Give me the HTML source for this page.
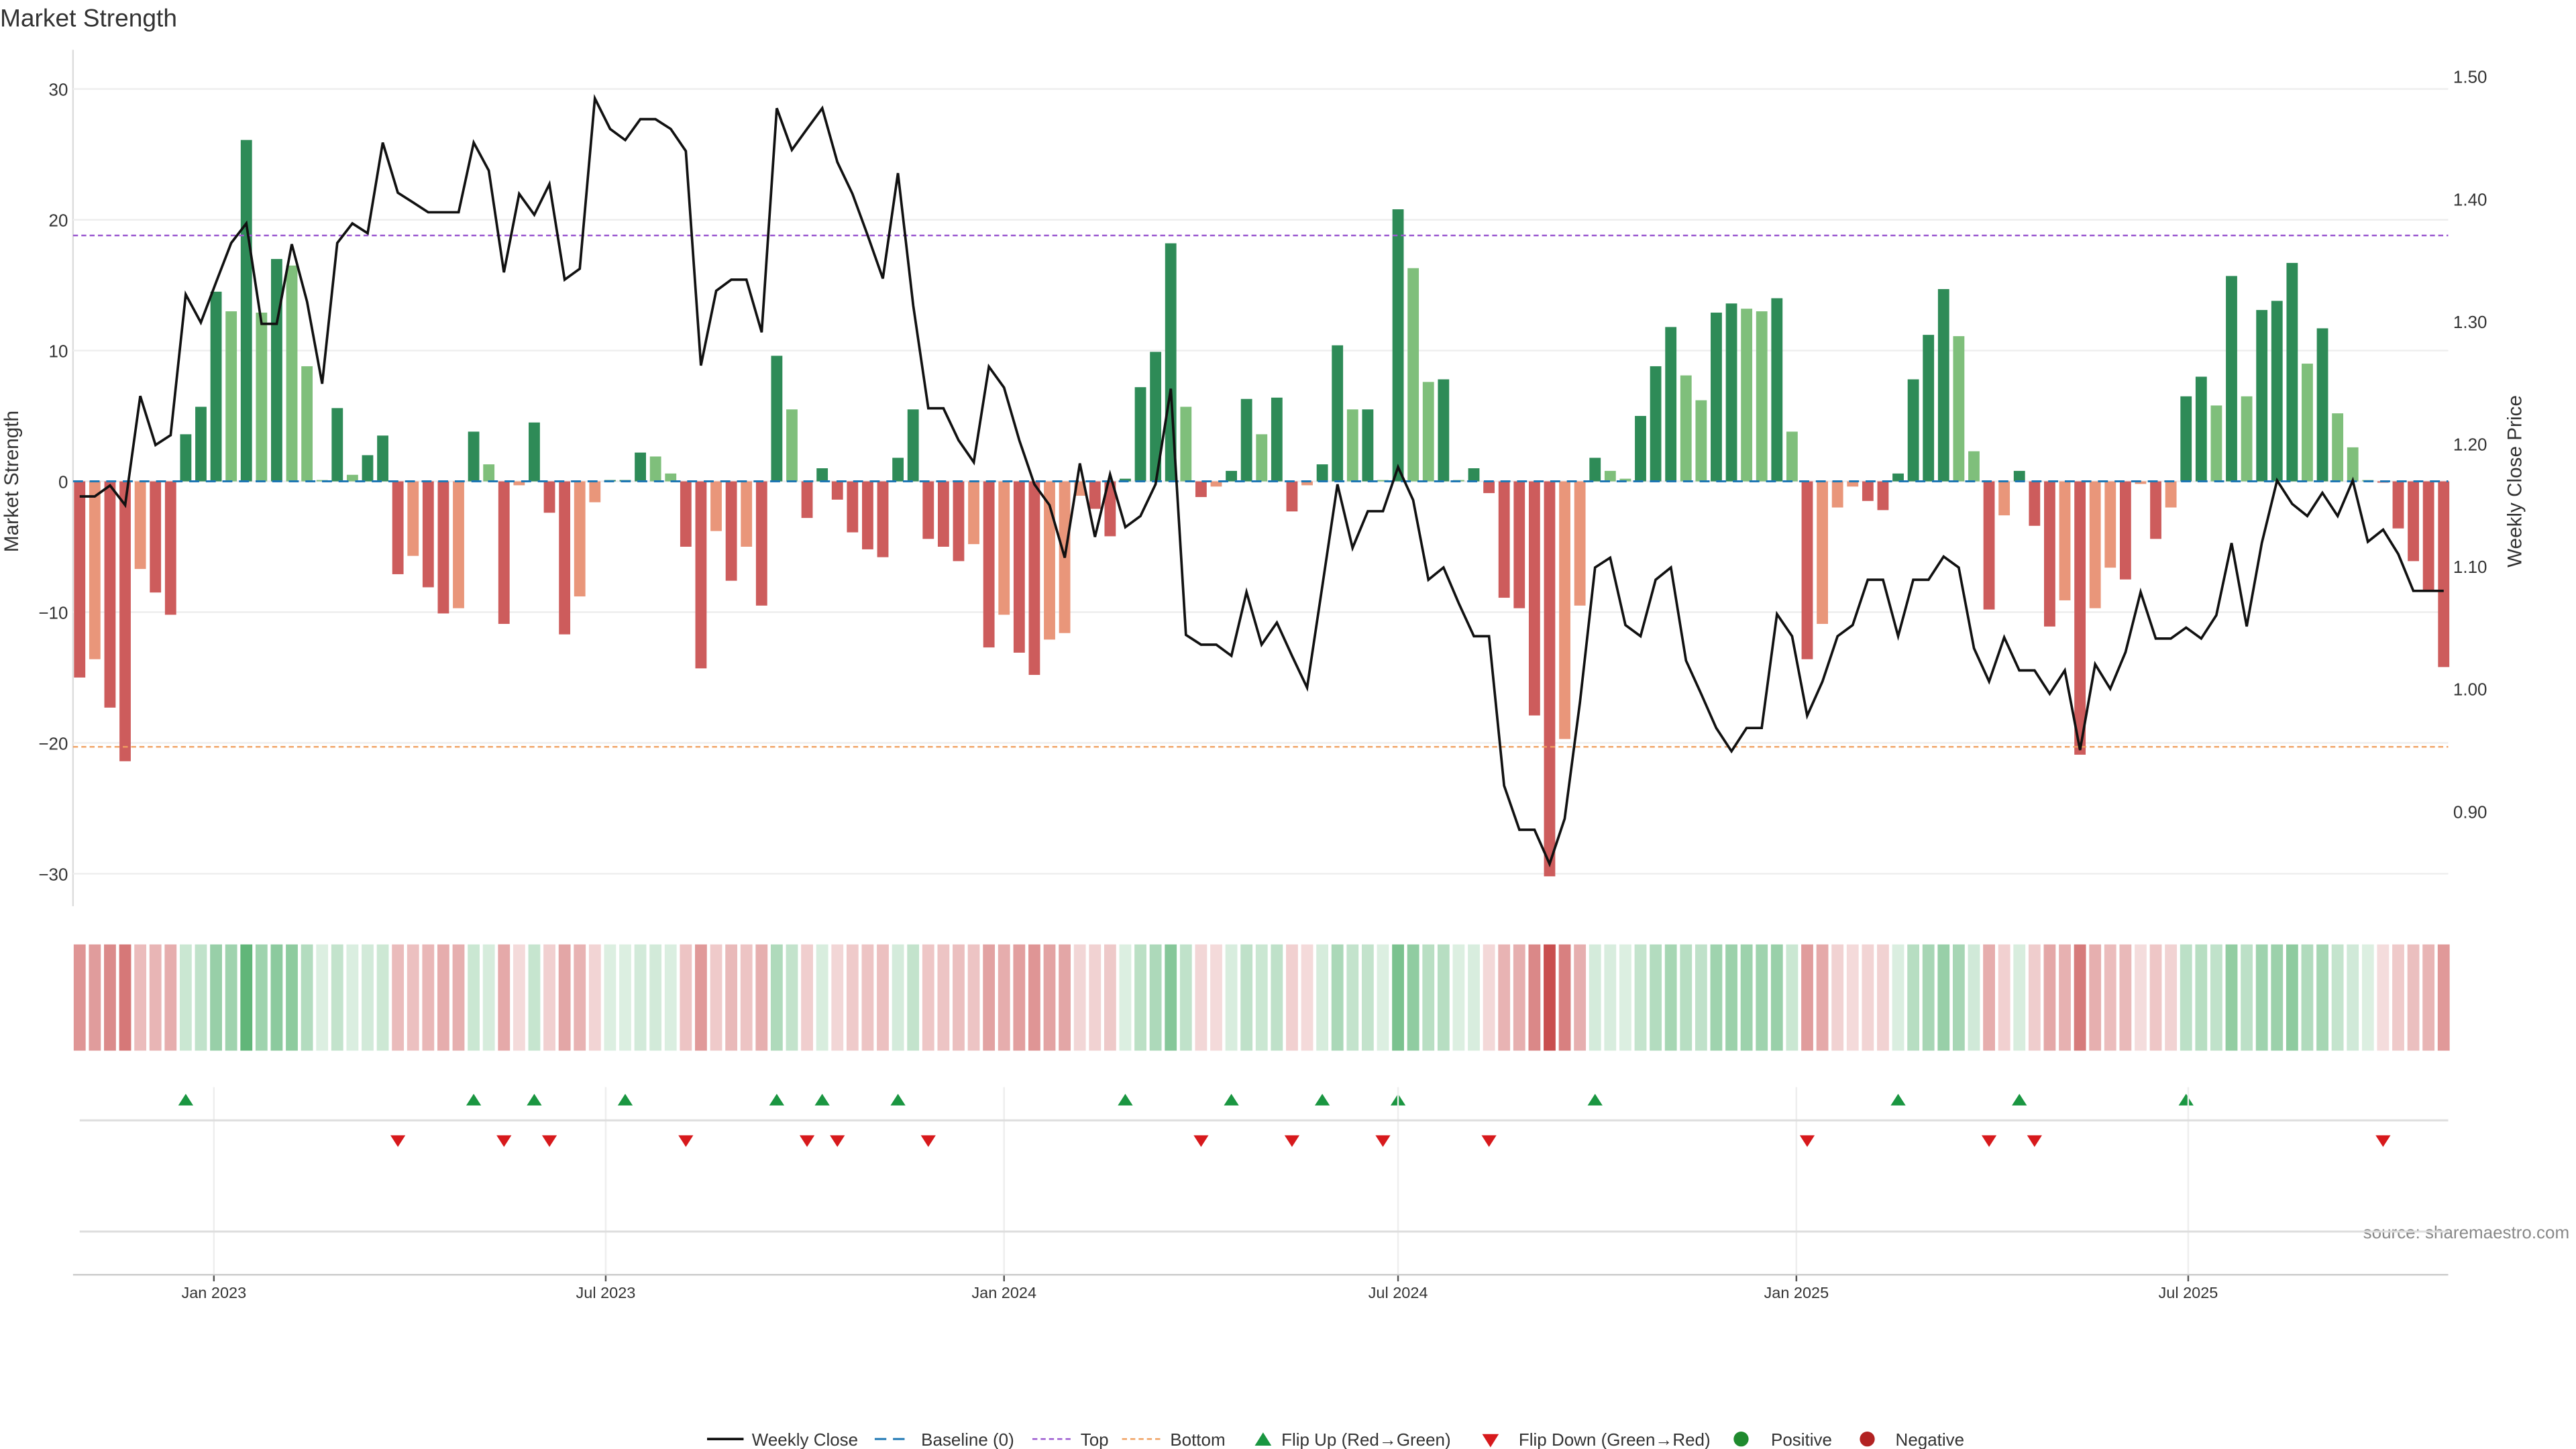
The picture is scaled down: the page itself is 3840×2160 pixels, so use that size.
<!DOCTYPE html>
<html><head><meta charset="utf-8"><style>
html,body{margin:0;padding:0;background:#fff;}
svg{display:block;font-family:"Liberation Sans","DejaVu Sans",sans-serif;}
</style></head><body>
<svg id="chart" width="3840" height="2160" viewBox="0 0 1552 873" preserveAspectRatio="none" xmlns="http://www.w3.org/2000/svg">
<text x="0" y="16" font-size="15" fill="#333">Market Strength</text>
<text transform="translate(11,290) rotate(-90)" text-anchor="middle" font-size="12" fill="#333">Market Strength</text>
<text transform="translate(1519,290) rotate(-90)" text-anchor="middle" font-size="12" fill="#333">Weekly Close Price</text>
<text x="1548" y="746" text-anchor="end" font-size="10.5" fill="#888">source: sharemaestro.com</text>
<g id="grid"></g><g id="bars"></g><g id="refs"></g><g id="line"></g><g id="strip"></g><g id="flips"></g><g id="xaxis"></g>
<g id="legend"></g>
</svg>
<script>
const strength = [-15.0,-13.6,-17.3,-21.4,-6.7,-8.5,-10.2,3.6,5.7,14.5,13.0,26.1,12.9,17.0,16.5,8.8,0.1,5.6,0.5,2.0,3.5,-7.1,-5.7,-8.1,-10.1,-9.7,3.8,1.3,-10.9,-0.3,4.5,-2.4,-11.7,-8.8,-1.6,0.1,0.1,2.2,1.9,0.6,
-5.0,-14.3,-3.8,-7.6,-5.0,-9.5,9.6,5.5,-2.8,1.0,-1.4,-3.9,-5.2,-5.8,1.8,5.5,-4.4,-5.0,-6.1,-4.8,-12.7,-10.2,-13.1,-14.8,-12.1,-11.6,-1.1,-2.1,-4.2,0.2,7.2,9.9,18.2,5.7,-1.2,-0.4,0.8,6.3,3.6,
6.4,-2.3,-0.3,1.3,10.4,5.5,5.5,0.1,20.8,16.3,7.6,7.8,0.1,1.0,-0.9,-8.9,-9.7,-17.9,-30.2,-19.7,-9.5,1.8,0.8,0.2,5.0,8.8,11.8,8.1,6.2,12.9,13.6,13.2,13.0,14.0,3.8,-13.6,-10.9,-2.0,-0.4,-1.5,
-2.2,0.6,7.8,11.2,14.7,11.1,2.3,-9.8,-2.6,0.8,-3.4,-11.1,-9.1,-20.9,-9.7,-6.6,-7.5,-0.2,-4.4,-2.0,6.5,8.0,5.8,15.7,6.5,13.1,13.8,16.7,9.0,11.7,5.2,2.6,0.1,-0.1,-3.6,-6.1,-8.3,-14.2];
const closes = [1.157,1.157,1.166,1.150,1.239,1.199,1.207,1.322,1.299,1.332,1.364,1.380,1.298,1.298,1.363,1.316,1.249,1.364,1.380,1.372,1.446,1.405,1.397,1.389,1.389,1.389,1.446,1.423,1.340,1.404,1.387,1.412,1.334,1.343,1.482,1.457,1.448,1.465,1.465,1.457,
1.439,1.264,1.325,1.334,1.334,1.291,1.474,1.440,1.457,1.474,1.430,1.404,1.370,1.335,1.421,1.313,1.229,1.229,1.203,1.185,1.263,1.246,1.203,1.167,1.150,1.107,1.184,1.124,1.175,1.132,1.141,1.167,1.245,1.044,1.036,1.036,1.027,1.079,1.036,
1.054,1.027,1.001,1.084,1.167,1.115,1.145,1.145,1.181,1.154,1.089,1.099,1.070,1.043,1.043,0.921,0.885,0.885,0.857,0.894,0.989,1.099,1.107,1.052,1.043,1.089,1.099,1.023,0.996,0.968,0.949,0.968,0.968,1.061,1.043,0.978,1.006,1.043,1.052,1.089,
1.089,1.043,1.089,1.089,1.108,1.099,1.033,1.006,1.042,1.015,1.015,0.996,1.015,0.950,1.020,1.000,1.030,1.079,1.041,1.041,1.050,1.041,1.060,1.119,1.051,1.119,1.170,1.151,1.141,1.160,1.141,1.170,1.120,1.130,1.110,1.080,1.080,1.080];
const flipUps = [7,26,30,36,46,49,54,69,76,82,87,100,120,128,139];
const flipDowns = [21,28,31,40,48,50,56,74,80,86,93,114,126,129,152];
const leftTicks = [30,20,10,0,-10,-20,-30];
const rightTicks = [1.50,1.40,1.30,1.20,1.10,1.00,0.90];
const dateTicks = ["2023-01-01","2023-07-01","2024-01-01","2024-07-01","2025-01-01","2025-07-01"];
const dateLabels = ["Jan 2023","Jul 2023","Jan 2024","Jul 2024","Jan 2025","Jul 2025"];
const topLevel = [18.8];
const bottomLevel = [-20.3];

const NS="http://www.w3.org/2000/svg";
const X0=48, STEP=9.13, D0=Date.UTC(2022,9,31);
function xi(i){return X0+i*STEP;}
function xd(s){const p=s.split("-");return X0+(Date.UTC(+p[0],+p[1]-1,+p[2])-D0)/(7*864e5)*STEP;}
function yl(v){return 290-v*7.88;}
function yr(v){return 46+(1.5-v)*738;}
function mk(parent,tag,attrs){const e=document.createElementNS(NS,tag);for(const k in attrs)e.setAttribute(k,attrs[k]);document.getElementById(parent).appendChild(e);return e;}

// grid + axes
let e;
e=mk("grid","line",{x1:44,x2:44,y1:30,y2:546,stroke:"#ddd","stroke-width":1});


leftTicks.forEach(v=>{
  let g=mk("grid","line",{x1:44,x2:1475,y1:yl(v),y2:yl(v),stroke:"#eee","stroke-width":1});
  
  
  let t=mk("grid","text",{x:41,y:yl(v)+4,"text-anchor":"end","font-size":10.5,fill:"#333"});
  t.textContent=v<0?"\u2212"+Math.abs(v):String(v);
  
  
});
rightTicks.forEach(v=>{
  let t=mk("grid","text",{x:1478,y:yr(v)+4,"font-size":10.5,fill:"#333"});
  t.textContent=v.toFixed(2);
  
  
});

// bars
strength.forEach((v,i)=>{
  const prev=i>0?strength[i-1]:0;
  let c;
  if(v>=0) c=(v>=prev)?"#2e8b57":"#7fbf7b";
  else c=(v<=prev)?"#cd5c5c":"#e9967a";
  const y=Math.min(yl(v),yl(0)), h=Math.max(Math.abs(yl(v)-yl(0)),0.4);
  let b=mk("bars","rect",{x:xi(i)-3.4,y:y,width:6.8,height:h,fill:c});
  
  
});

// reference lines
e=mk("refs","line",{x1:44,x2:1475,y1:yl(0),y2:yl(0),stroke:"#1f77b4","stroke-width":1.2,"stroke-dasharray":"6 4"});


e=mk("refs","line",{x1:44,x2:1475,y1:yl(topLevel[0]),y2:yl(topLevel[0]),stroke:"#9b59d0","stroke-width":1,"stroke-dasharray":"3 2"});


e=mk("refs","line",{x1:44,x2:1475,y1:yl(bottomLevel[0]),y2:yl(bottomLevel[0]),stroke:"#f0a060","stroke-width":1,"stroke-dasharray":"3 2"});



// close line
e=mk("line","polyline",{points:closes.map((v,i)=>xi(i).toFixed(1)+","+yr(v).toFixed(1)).join(" "),fill:"none",stroke:"#111","stroke-width":1.5,"stroke-linejoin":"miter"});



// heat strip
strength.forEach((v,i)=>{
  const a=Math.min(0.18+0.72*Math.abs(v)/30,0.9);
  const c=v>=0?"rgba(60,165,90,"+a.toFixed(2)+")":"rgba(195,60,60,"+a.toFixed(2)+")";
  let r=mk("strip","rect",{x:xi(i)-3.6,y:569,width:7.2,height:64,fill:c});
  
  
});

// lower panels
dateTicks.forEach((d,k)=>{
  const x=xd(d);
  let g=mk("xaxis","line",{x1:x,x2:x,y1:655,y2:768,stroke:"#eee","stroke-width":1});
  
  
  let tk=mk("xaxis","line",{x1:x,x2:x,y1:768,y2:772,stroke:"#555","stroke-width":1});
  
  
  let t=mk("xaxis","text",{x:x,y:782,"text-anchor":"middle","font-size":9.5,fill:"#333"});
  t.textContent=dateLabels[k];
  
  
});
e=mk("xaxis","line",{x1:48,x2:1475,y1:675,y2:675,stroke:"#ddd","stroke-width":1.2});


e=mk("xaxis","line",{x1:48,x2:1475,y1:742,y2:742,stroke:"#ddd","stroke-width":1.2});


e=mk("xaxis","line",{x1:44,x2:1475,y1:768,y2:768,stroke:"#ccc","stroke-width":1});



flipUps.forEach(i=>{
  const x=xi(i);
  let p=mk("flips","polygon",{points:`${x-4.5},666 ${x+4.5},666 ${x},659`,fill:"#1a9641"});
  
  
});
flipDowns.forEach(i=>{
  const x=xi(i);
  let p=mk("flips","polygon",{points:`${x-4.5},684 ${x+4.5},684 ${x},691`,fill:"#d7191c"});
  
  
});

// legend
function legText(x,s){let t=mk("legend","text",{x:x,y:871,"font-size":10.5,fill:"#333"});t.textContent=s;}
e=mk("legend","line",{x1:426,x2:448,y1:867,y2:867,stroke:"#111","stroke-width":1.5});


legText(453,"Weekly Close");
e=mk("legend","line",{x1:527,x2:549,y1:867,y2:867,stroke:"#1f77b4","stroke-width":1.2,"stroke-dasharray":"7 4"});


legText(555,"Baseline (0)");
e=mk("legend","line",{x1:622,x2:645,y1:867,y2:867,stroke:"#9b59d0","stroke-width":1,"stroke-dasharray":"3 2"});


legText(651,"Top");
e=mk("legend","line",{x1:676,x2:699,y1:867,y2:867,stroke:"#f0a060","stroke-width":1,"stroke-dasharray":"3 2"});


legText(705,"Bottom");
e=mk("legend","polygon",{points:"756,871 766,871 761,863",fill:"#1a9641"});


legText(772,"Flip Up (Red\u2192Green)");
e=mk("legend","polygon",{points:"893,864 903,864 898,872",fill:"#d7191c"});


legText(915,"Flip Down (Green\u2192Red)");
e=mk("legend","circle",{cx:1049,cy:867,r:4.5,fill:"#1f8a2e"});


legText(1067,"Positive");
e=mk("legend","circle",{cx:1125,cy:867,r:4.5,fill:"#b22222"});


legText(1142,"Negative");
</script>
</body></html>
